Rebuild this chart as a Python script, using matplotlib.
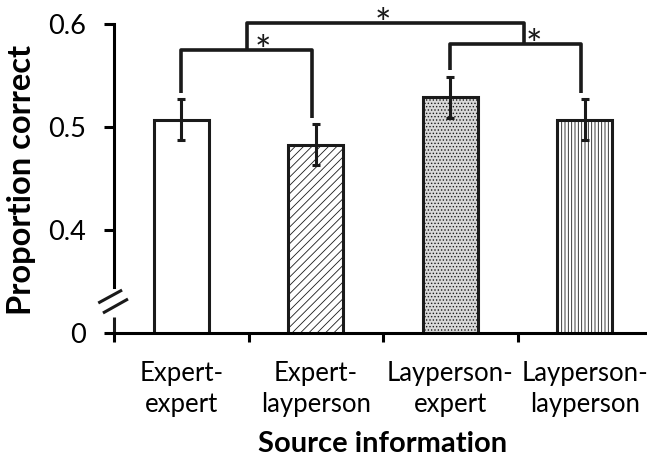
import numpy as np
import matplotlib
matplotlib.use("Agg")
import matplotlib.pyplot as plt

# proportion correct per source condition, with error bars
categories = ["Expert-\nexpert", "Expert-\nlayperson", "Layperson-\nexpert", "Layperson-\nlayperson"]
props = [0.507, 0.483, 0.529, 0.507]
errs = [0.020, 0.020, 0.020, 0.020]
hatches = ["", "////", ".....", "|||||"]
fills = ["white", "white", "#d8d8d8", "white"]

ytick_vals = [0.3, 0.4, 0.5, 0.6]
ytick_labels = ["0", "0.4", "0.5", "0.6"]

plt.rcParams['font.family'] = ['Lato', 'DejaVu Sans']
plt.rcParams['hatch.linewidth'] = 0.6

fig = plt.figure(figsize=(6.47, 4.58), dpi=100)
ax = fig.add_axes([114/647, 125/458, 538/647, 309/458])

x = np.arange(len(categories))
lw = 2.2
bars = ax.bar(x, props, width=0.41, color=fills, edgecolor="#1a1a1a", linewidth=lw, zorder=2)
for b, h in zip(bars, hatches):
    b.set_hatch(h)
ax.errorbar(x, props, yerr=errs, fmt="none", ecolor="#1a1a1a", elinewidth=2.2,
            capsize=3, capthick=2.2, zorder=3)

ax.set_xlim(-0.5, 3.5)
ax.set_ylim(0.3, 0.6)
ax.set_yticks(ytick_vals)
ax.set_yticklabels(ytick_labels)
ax.set_xticks(x)
ax.set_xticklabels(categories)
ax.set_xticks(np.arange(-0.5, 3.6, 1.0), minor=True)
ax.tick_params(axis="y", direction="out", length=7.2, width=lw, labelsize=19.5, pad=13)
ax.tick_params(axis="x", which="major", length=0, labelsize=18.5, pad=20)
ax.tick_params(axis="x", which="minor", direction="out", length=6.5, width=lw)
for lab in ax.get_xticklabels():
    lab.set_linespacing(1.33)

for s in ["top", "right"]:
    ax.spines[s].set_visible(False)
ax.spines["bottom"].set_linewidth(lw)
ax.spines["left"].set_linewidth(lw)
ax.spines["left"].set_bounds(0.345, 0.6)

# lower stub of the broken y axis and the break marks
k = dict(color="#1a1a1a", lw=lw, clip_on=False, solid_capstyle="butt")
ax.plot([-0.5, -0.5], [0.3, 0.3158], **k)
ax.plot([-0.617, -0.44], [0.3291, 0.3417], **k)
ax.plot([-0.582, -0.396], [0.3194, 0.3330], **k)

# significance brackets
props = np.array(props)
tops = props + np.array(errs) + 0.006
bk = dict(color="#1a1a1a", lw=2.6, clip_on=False, solid_capstyle="butt", zorder=4)
ya, yb, yc = 0.575, 0.581, 0.601
ax.plot([0, 0, 0.97, 0.97], [tops[0], ya, ya, tops[1]], **bk)
ax.plot([2, 2, 2.97, 2.97], [tops[2], yb, yb, tops[3]], **bk)
ax.plot([0.49, 0.49, 2.547, 2.547], [ya, yc, yc, yb], **bk)
star = dict(ha="center", va="baseline", fontsize=28, color="#1a1a1a", clip_on=False)
ax.text(0.61, 0.5607, "*", **star)
ax.text(1.50, 0.5874, "*", **star)
ax.text(2.62, 0.5673, "*", **star)

fig.text(22/647, 1 - 180/458, "Proportion correct", rotation=90, ha="center", va="center",
         fontsize=23.5, fontweight="bold")
fig.text(383/647, 1 - 452/458, "Source information", ha="center", va="baseline",
         fontsize=21, fontweight="bold")

fig.savefig("out.png", dpi=100)
